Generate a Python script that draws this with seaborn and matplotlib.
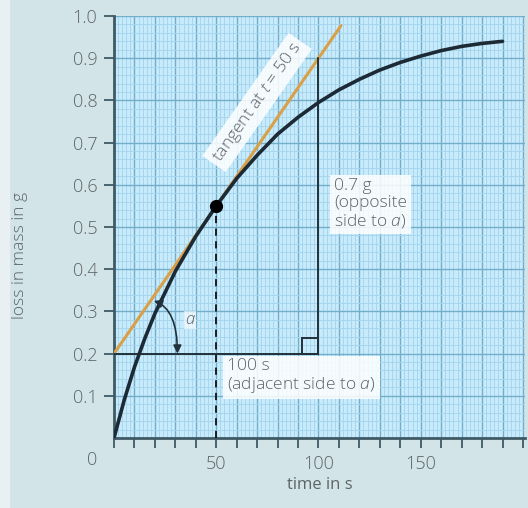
import pandas as pd
import seaborn as sns
import matplotlib.pyplot as plt
from matplotlib.patches import Rectangle
from matplotlib.ticker import MultipleLocator, FixedLocator

# curve
time_s = [0, 5, 10, 15, 20, 30, 40, 50, 60, 70, 80, 90, 100, 110, 120,
          130, 140, 150, 160, 170, 180, 190]
loss_g = [0, 0.09, 0.168, 0.235, 0.295, 0.395, 0.478, 0.55, 0.615, 0.67, 0.72,
          0.76, 0.795, 0.825, 0.85, 0.872, 0.89, 0.905, 0.918, 0.928, 0.935, 0.94]

tangent_t = [0, 111]
tangent_m = [0.2, 0.977]
point_t, point_m = 50, 0.55
adj_t = [0, 100]
adj_m = [0.2, 0.2]
opp_t = [100, 100]
opp_m = [0.2, 0.9]

x_tick_labels = {50: '50', 100: '100', 150: '150'}
y_ticks = [0.1, 0.2, 0.3, 0.4, 0.5, 0.6, 0.7, 0.8, 0.9, 1.0]

BG = '#d3e4e9'
FACE = '#c8ebfb'
TXT = '#5c6468'
AXC = '#3f5a66'
FONT = 'Open Sans'

sns.set_theme(style='ticks')
plt.rcParams['font.family'] = [FONT, 'DejaVu Sans']
plt.rcParams['font.weight'] = 'light'
plt.rcParams['mathtext.fontset'] = 'custom'
plt.rcParams['mathtext.it'] = FONT + ':italic:light'
plt.rcParams['mathtext.rm'] = FONT + ':light'

fig = plt.figure(figsize=(5.28, 5.08), dpi=100, facecolor=BG)
fig.patches.append(Rectangle((0, 0), 9 / 528, 1, transform=fig.transFigure,
                             color='#e8f0f2', zorder=0))
ax = fig.add_axes([114 / 528, 1 - 438 / 508, (525 - 114) / 528, (438 - 16) / 508])
ax.set_facecolor(FACE)
ax.set_xlim(0, 201)
ax.set_ylim(0, 1.0)

# graph paper
ax.xaxis.set_minor_locator(MultipleLocator(2))
ax.yaxis.set_minor_locator(MultipleLocator(0.02))
ax.xaxis.set_major_locator(MultipleLocator(10))
ax.yaxis.set_major_locator(FixedLocator(y_ticks))
ax.grid(which='minor', color='#a6d6ee', lw=0.7)
ax.grid(which='major', color='#72adca', lw=1.0)
ax.set_axisbelow(True)

ax.set_xticklabels([x_tick_labels.get(int(round(v)), '') for v in ax.get_xticks()])
ax.set_yticklabels(['%.1f' % v for v in y_ticks])
ax.tick_params(which='major', length=7, width=1.3, color=AXC, labelcolor=TXT,
               labelsize=13, pad=5)
ax.tick_params(which='minor', length=0)
for s in ['top', 'right']:
    ax.spines[s].set_visible(False)
for s in ['left', 'bottom']:
    ax.spines[s].set_color(AXC)
    ax.spines[s].set_linewidth(2)
ax.text(-0.04, -0.03, '0', transform=ax.transAxes, ha='right', va='top',
        fontsize=13, color=TXT)

fig.text(20 / 528, 1 - 255 / 508, 'loss in mass in g', rotation=90,
         ha='center', va='center', fontsize=12.5, color=TXT)

# construction
ax.plot(tangent_t, tangent_m, color='#d9a048', lw=2.2, zorder=3)
ax.plot(adj_t, adj_m, color='#22313a', lw=1.4, zorder=3)
ax.plot(opp_t, opp_m, color='#22313a', lw=1.4, zorder=3)
ax.add_patch(Rectangle((92, 0.2), 8, 0.038, fill=False, ec='#22313a', lw=1.4, zorder=3))
ax.plot([point_t, point_t], [0, point_m], color='#111', lw=1.3, ls=(0, (4, 3)), zorder=3)

df = pd.DataFrame({'t': time_s, 'm': loss_g})
sns.lineplot(data=df, x='t', y='m', ax=ax, color='#1c2a36', lw=2.6, zorder=4)
ax.set_xlabel('time in s', fontsize=12, color=TXT, labelpad=3)
ax.set_ylabel('')
ax.plot([point_t], [point_m], 'o', color='black', ms=8.5, zorder=5)

# angle a: leaves the tangent to the right, arrives pointing down
ax.annotate('', xy=(31, 0.2), xytext=(19.5, 0.325),
            arrowprops=dict(arrowstyle='<|-|>', color='#22313a', lw=1.2,
                            connectionstyle='angle3,angleA=-20,angleB=90',
                            shrinkA=0, shrinkB=0, mutation_scale=12), zorder=5)
ax.text(37, 0.28, 'a', style='italic', fontsize=12, color=TXT, ha='center',
        va='center', bbox=dict(fc='white', ec='none', alpha=0.6, pad=1))

box = dict(fc='white', ec='none', alpha=0.85, pad=3)
ax.text(70, 0.795, 'tangent at $t$ = 50 s', rotation=55, ha='center',
        va='center', fontsize=12.5, color=TXT, bbox=box)
ax.text(107.5, 0.615, '0.7 g\n(opposite\nside to $a$)', ha='left', va='top',
        fontsize=12.5, color=TXT, bbox=box, linespacing=1.05)
ax.text(55.5, 0.19, '100 s\n(adjacent side to $a$)', ha='left', va='top',
        fontsize=12.5, color=TXT, bbox=box, linespacing=1.05)

fig.savefig('out.png', dpi=100, facecolor=BG)
